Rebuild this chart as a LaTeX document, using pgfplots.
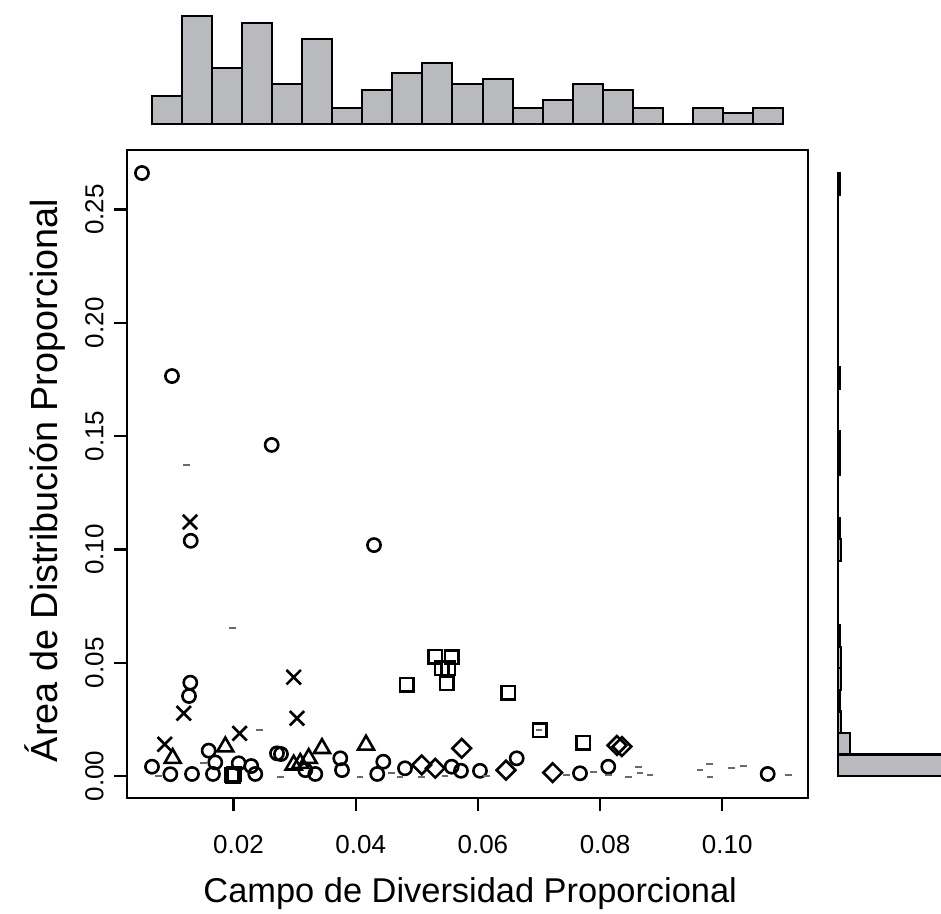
\documentclass[border=0pt]{standalone}
\usepackage{pgfplots}
\pgfplotsset{compat=1.18}
\usepackage{fontspec}
\setmainfont{Liberation Sans}
\definecolor{histgray}{RGB}{184,186,189}
\definecolor{dashgray}{RGB}{105,105,115}

\begin{document}
\begin{tikzpicture}
\useasboundingbox (0,0) rectangle (470.5pt,-457pt);

% main scatter
\begin{axis}[
  at={(63.5pt,-75pt)}, anchor=north west,
  scale only axis, width=340.5pt, height=324pt,
  xmin=0.00257, xmax=0.11403, ymin=-0.00971, ymax=0.27626,
  axis line style={line width=1.2pt},
  tick pos=left, tick align=outside, major tick length=6.5pt,
  tick style={line width=1.1pt, black},
  xtick={0.02,0.04,0.06,0.08,0.10},
  xticklabels={0.02,0.04,0.06,0.08,0.10},
  ytick={0,0.05,0.10,0.15,0.20,0.25},
  yticklabels={0.00,0.05,0.10,0.15,0.20,0.25},
  ticklabel style={font=\fontsize{13}{15}\selectfont, inner sep=0pt},
  xticklabel style={anchor=north, xshift=2.5pt},
  xticklabel shift=12pt,
  yticklabel style={rotate=90, anchor=south},
  yticklabel shift=5pt,
  xlabel={Campo de Diversidad Proporcional},
  ylabel={Área de Distribución Proporcional},
  xlabel style={font=\fontsize{17.2}{20}\selectfont,
    at={(axis description cs:0.504,-0.147)}, anchor=center},
  ylabel style={font=\fontsize{18.9}{21}\selectfont,
    at={(axis description cs:-0.1204,0.49)}, anchor=center},
  every axis plot/.append style={only marks, mark options={line width=1.3pt, black}},
]
% circles
\addplot[mark=o, mark size=3.3pt] coordinates {
  (0.00502,0.2661) (0.00993,0.1765) (0.02625,0.1461) (0.0430,0.1019)
  (0.0130,0.1038) (0.01293,0.0412) (0.01272,0.0353) (0.00666,0.0041)
  (0.00966,0.0008) (0.01321,0.0009) (0.01594,0.0112) (0.01702,0.0060)
  (0.01664,0.0009) (0.02085,0.0056) (0.02291,0.0044) (0.02357,0.0009)
  (0.02712,0.0100) (0.02777,0.0097) (0.03175,0.0026) (0.03339,0.0009)
  (0.03748,0.0078) (0.03776,0.0026) (0.04452,0.0063) (0.04353,0.0009)
  (0.04807,0.0034) (0.05571,0.0041) (0.05723,0.0023) (0.06034,0.0023)
  (0.06635,0.0078) (0.07671,0.0012) (0.08134,0.0041) (0.10743,0.0009)
};
% squares
\addplot[mark=square, mark size=3.4pt] coordinates {
  (0.05302,0.0526) (0.05571,0.0524) (0.05412,0.0475) (0.05511,0.0475)
  (0.05489,0.0409) (0.04835,0.0402) (0.06498,0.0368) (0.07016,0.0203)
  (0.07725,0.0147) (0.01975,0.0006) (0.01995,0.0002) (0.02010,0.0008)
};
% crosses
\addplot[mark=x, mark size=5.1pt] coordinates {
  (0.01288,0.1121) (0.01185,0.0277) (0.00874,0.0140)
  (0.02101,0.0188) (0.02985,0.0436) (0.03039,0.0255)
};
% triangles
\addplot[mark=triangle, mark size=4.6pt] coordinates {
  (0.01005,0.0078) (0.01866,0.0129) (0.02985,0.0049) (0.03093,0.0056)
  (0.03231,0.0078) (0.03448,0.0122) (0.04169,0.0137)
};
% diamonds
\addplot[mark=square, mark size=3.3pt, mark options={rotate=45, line width=1.3pt, black}] coordinates {
  (0.0508,0.0049) (0.05302,0.0034) (0.05735,0.0122) (0.0646,0.0026)
  (0.07224,0.0015) (0.08276,0.0135) (0.08358,0.0130)
};
% small dashes
\addplot[mark=-, mark size=1.7pt, mark options={line width=0.9pt, dashgray}] coordinates {
  (0.01234,0.1372) (0.0198,0.0652) (0.02429,0.0203) (0.00776,0.0)
  (0.02766,-0.0003) (0.01512,0.0056) (0.0407,-0.0003) (0.04589,0.0012)
  (0.04725,-0.0003) (0.0508,-0.0003) (0.05461,0.0) (0.06144,0.0)
  (0.0700,0.0203) (0.07453,0.0004) (0.07889,0.0019) (0.08134,0.0004)
  (0.08462,-0.0003) (0.08625,0.0041) (0.08653,0.0012) (0.08817,0.0004)
  (0.09635,0.0026) (0.09787,0.0053) (0.09798,-0.0003) (0.10154,0.0034)
  (0.10344,0.0045) (0.1108,0.0004)
};
\end{axis}

% top marginal histogram
\begin{axis}[
  at={(63.5pt,0pt)}, anchor=north west,
  scale only axis, width=340.5pt, height=62pt,
  xmin=0.00257, xmax=0.11403, ymin=0, ymax=124,
  hide axis, clip=false,
]
\addplot[ybar interval, fill=histgray, draw=black, line width=1pt] coordinates {
  (0.00661,28) (0.01153,108) (0.01646,55.7) (0.02138,101.3) (0.02630,40)
  (0.03123,84.7) (0.03615,15.7) (0.04107,34) (0.04600,51.3) (0.05092,61.3)
  (0.05584,40) (0.06076,44.7) (0.06569,15.7) (0.07061,24) (0.07553,40)
  (0.08046,34) (0.08538,15.7) (0.09030,0) (0.09523,15.7) (0.10015,10.7)
  (0.10507,15.7) (0.11000,15.7)
};
\end{axis}

% right marginal histogram
\begin{axis}[
  at={(417.95pt,-75pt)}, anchor=north west,
  scale only axis, width=52.55pt, height=324pt,
  xmin=-2, xmax=85.6, ymin=-0.00971, ymax=0.27626,
  hide axis,
]
\addplot[xbar interval, fill=histgray, draw=black, line width=1.1pt] coordinates {
  (150,0) (10,0.0095) (2,0.019) (1,0.0285) (2,0.038) (2,0.0475) (1,0.057)
  (0,0.0665) (0,0.076) (0,0.0855) (2,0.095) (1,0.1045) (0,0.114) (0,0.1235)
  (1,0.133) (1,0.1425) (0,0.152) (0,0.1615) (1,0.171) (0,0.1805) (0,0.19)
  (0,0.1995) (0,0.209) (0,0.2185) (0,0.228) (0,0.2375) (0,0.247) (1,0.2565)
  (1,0.266)
};
\end{axis}
\end{tikzpicture}
\end{document}
